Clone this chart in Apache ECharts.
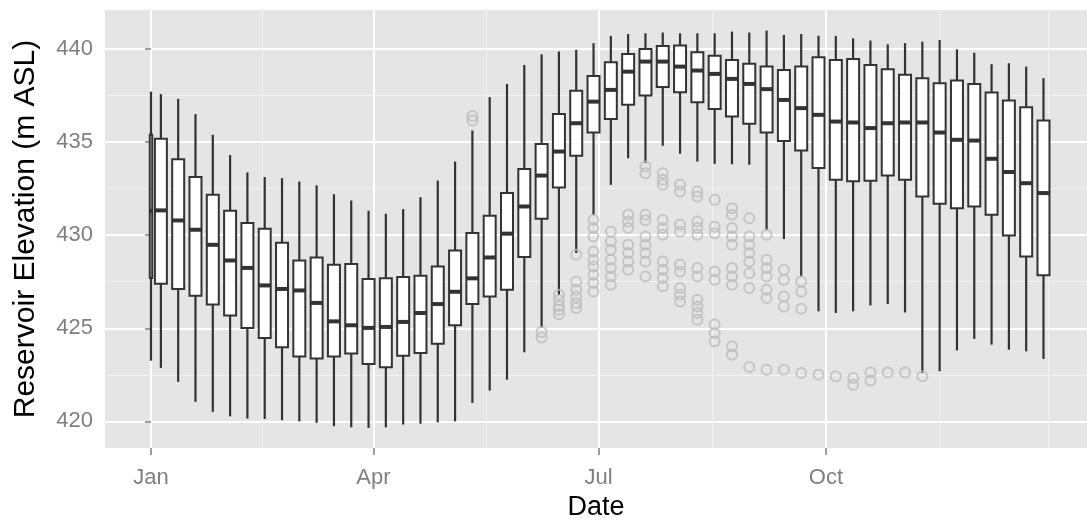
<!DOCTYPE html>
<html>
<head>
<meta charset="utf-8">
<script src="https://cdn.jsdelivr.net/npm/echarts@6/dist/echarts.min.js"></script>
<style>
  html, body { margin: 0; padding: 0; background: #fff; }
  #chart { width: 1087px; height: 523px; }
</style>
</head>
<body>
<div id="chart"></div>
<script>
// day of year (0 = Jan 1) at the middle of each weekly box
const weekDays = [4, 11, 18, 25, 32, 39, 46, 53, 60, 67, 74, 81, 88, 95, 102, 109, 116, 123, 130, 137,
  144, 151, 158, 165, 172, 179, 186, 193, 200, 207, 214, 221, 228, 235, 242, 249, 256, 263, 270, 277,
  284, 291, 298, 305, 312, 319, 326, 333, 340, 347, 354, 361];

// weekly box statistics, reservoir elevation (m ASL)
const whiskerLow = [422.87, 422.12, 421.05, 420.51, 420.27, 420.15, 420.13, 420.06, 420.00, 419.92,
  419.74, 419.68, 419.65, 419.68, 419.83, 419.87, 419.95, 420.00, 420.99, 421.65,
  422.24, 423.71, 425.02, 426.80, 429.04, 431.09, 432.70, 434.13, 433.87, 434.80,
  434.37, 433.95, 433.83, 433.81, 433.78, 430.25, 429.79, 427.78, 425.91, 425.82,
  425.91, 426.23, 426.30, 425.85, 422.60, 422.69, 423.81, 424.43, 424.12, 423.85,
  423.76, 423.35];
const lowerQuartile = [427.39, 427.11, 426.75, 426.27, 425.68, 425.01, 424.48, 423.98, 423.49, 423.37,
  423.49, 423.64, 423.08, 422.90, 423.53, 423.67, 424.17, 425.16, 426.30, 426.71,
  427.07, 428.82, 430.88, 432.56, 434.26, 435.51, 436.24, 437.00, 437.50, 437.95,
  437.68, 437.14, 436.78, 436.37, 435.98, 435.51, 435.06, 434.54, 433.60, 432.97,
  432.90, 432.92, 433.20, 432.97, 432.08, 431.68, 431.45, 431.54, 431.09, 429.98,
  428.86, 427.84];
const medians = [431.33, 430.79, 430.29, 429.48, 428.64, 428.24, 427.30, 427.11, 427.03, 426.36,
  425.37, 425.16, 425.02, 425.07, 425.34, 425.82, 426.30, 426.96, 427.68, 428.80,
  430.08, 431.54, 433.20, 434.49, 436.01, 437.17, 437.80, 438.78, 439.32, 439.32,
  439.05, 438.84, 438.66, 438.39, 438.12, 437.84, 437.26, 436.82, 436.46, 436.10,
  436.05, 435.75, 436.01, 436.05, 436.05, 435.51, 435.12, 435.08, 434.10, 433.39,
  432.79, 432.26];
const upperQuartile = [435.17, 434.08, 433.12, 432.17, 431.31, 430.65, 430.34, 429.59, 428.64, 428.80,
  428.41, 428.45, 427.64, 427.68, 427.75, 427.82, 428.32, 429.18, 430.11, 431.04,
  432.26, 433.55, 434.90, 436.50, 437.75, 438.55, 439.29, 439.73, 440.00, 440.16,
  440.18, 439.82, 439.64, 439.41, 439.20, 439.05, 438.87, 439.05, 439.55, 439.41,
  439.46, 439.14, 438.91, 438.61, 438.43, 438.16, 438.30, 438.12, 437.66, 437.23,
  436.87, 436.15];
const whiskerHigh = [437.57, 437.32, 436.50, 435.39, 434.30, 433.37, 433.12, 433.06, 432.88, 432.67,
  432.20, 431.86, 431.31, 431.15, 431.40, 432.04, 432.93, 433.95, 435.62, 437.41,
  438.12, 439.14, 439.71, 439.86, 439.95, 440.31, 440.70, 440.80, 440.84, 440.88,
  440.84, 440.84, 440.84, 440.93, 440.88, 440.98, 440.75, 440.80, 440.71, 440.70,
  440.57, 440.45, 440.25, 440.31, 440.39, 440.48, 439.98, 439.80, 439.18, 439.23,
  439.05, 438.43];

// the short first "week" that holds only Jan 1
const partialDay = 0;
const partialStats = [423.26, 427.70, 431.30, 435.39, 437.71];

// outliers: week number (1-based) and elevation
const outlierWeek = [19, 19, 23, 23,
  24, 24, 24, 24, 24,
  25, 25, 25, 25, 25, 25,
  26, 26, 26, 26, 26, 26, 26, 26, 26,
  27, 27, 27, 27, 27, 27, 27,
  28, 28, 28, 28, 28, 28, 28,
  29, 29, 29, 29, 29, 29, 29, 29, 29,
  30, 30, 30, 30, 30, 30, 30, 30, 30, 30,
  31, 31, 31, 31, 31, 31, 31, 31, 31,
  32, 32, 32, 32, 32, 32, 32, 32, 32, 32, 32,
  33, 33, 33, 33, 33, 33, 33, 33,
  34, 34, 34, 34, 34, 34, 34, 34, 34, 34,
  35, 35, 35, 35, 35, 35, 35, 35,
  36, 36, 36, 36, 36, 36, 36,
  37, 37, 37, 37, 37,
  38, 38, 38, 38,
  39, 40, 41, 41, 42, 42, 43, 44, 45];
const outlierValue = [436.40, 436.15, 424.80, 424.50,
  426.80, 426.50, 426.20, 426.00, 425.75,
  428.95, 427.51, 427.07, 426.71, 426.35, 426.09,
  430.82, 430.38, 429.93, 429.12, 428.68, 428.32, 427.87, 427.43, 426.98,
  430.20, 429.66, 429.21, 428.68, 428.23, 427.78, 427.34,
  431.09, 430.73, 430.38, 429.48, 429.04, 428.59, 428.14,
  433.68, 433.33, 431.10, 430.80, 429.93, 429.48, 429.04, 428.59, 427.78,
  433.33, 432.97, 432.70, 430.82, 430.38, 430.02, 428.59, 428.14, 427.70, 427.25,
  432.70, 432.34, 430.56, 430.20, 428.41, 428.05, 427.16, 426.80, 426.44,
  432.34, 432.07, 430.73, 430.38, 430.02, 428.23, 427.78, 426.53, 426.17, 425.82, 425.46,
  431.90, 430.45, 430.10, 428.05, 427.60, 425.20, 424.75, 424.30,
  431.45, 431.09, 430.38, 429.93, 429.48, 428.23, 427.78, 427.34, 424.03, 423.58,
  430.91, 429.93, 429.48, 429.04, 428.59, 427.96, 427.16, 422.92,
  430.02, 428.68, 428.23, 427.78, 427.07, 426.62, 422.77,
  428.14, 427.60, 426.71, 426.17, 422.77,
  427.51, 426.98, 426.05, 422.60,
  422.51, 422.42, 422.33, 421.97, 422.63, 422.20, 422.63, 422.63, 422.42];

// axis ticks
const monthDays = [0, 90, 181, 273];
const monthLabels = ['Jan', 'Apr', 'Jul', 'Oct'];
const minorDays = [45, 135.5, 227, 319, 363];
const yMajor = [420, 425, 430, 435, 440];
const yMinor = [422.5, 427.5, 432.5, 437.5];

const boxData = weekDays.map((d, i) =>
  [d, whiskerLow[i], lowerQuartile[i], medians[i], upperQuartile[i], whiskerHigh[i]]);
const partialData = [[partialDay].concat(partialStats)];
const outlierData = outlierWeek.map((w, i) => [weekDays[w - 1], outlierValue[i]]);

const dark = '#333333';
const font = "'Liberation Sans', Arial, sans-serif";

function boxRenderer(spanDays) {
  return function (params, api) {
    const x = api.value(0);
    const lo = api.coord([x, api.value(1)]);
    const q1 = api.coord([x, api.value(2)]);
    const md = api.coord([x, api.value(3)]);
    const q3 = api.coord([x, api.value(4)]);
    const hi = api.coord([x, api.value(5)]);
    const w = api.size([spanDays, 0])[0];
    const cx = lo[0];
    return {
      type: 'group',
      children: [
        { type: 'line', shape: { x1: cx, y1: lo[1], x2: cx, y2: q1[1] }, style: { stroke: dark, lineWidth: 2.2 } },
        { type: 'line', shape: { x1: cx, y1: q3[1], x2: cx, y2: hi[1] }, style: { stroke: dark, lineWidth: 2.2 } },
        { type: 'rect', shape: { x: cx - w / 2, y: q3[1], width: w, height: q1[1] - q3[1] },
          style: { fill: '#ffffff', stroke: dark, lineWidth: 2 } },
        { type: 'line', shape: { x1: cx - w / 2, y1: md[1], x2: cx + w / 2, y2: md[1] }, style: { stroke: dark, lineWidth: 4 } }
      ]
    };
  };
}

const myChart = echarts.init(document.getElementById('chart'));

const option = {
  animation: false,
  grid: {
    left: 105, right: 0, top: 10, bottom: 75,
    outerBoundsMode: 'none',
    show: true, backgroundColor: '#E5E5E5', borderWidth: 0
  },
  xAxis: [
    {
      type: 'value', min: -18.6, max: 378.6,
      name: 'Date', nameLocation: 'middle', nameGap: 44,
      nameTextStyle: { color: '#000', fontSize: 27, fontFamily: font },
      axisLine: { show: false },
      axisTick: { show: true, length: 7, customValues: monthDays, lineStyle: { color: '#7F7F7F', width: 1.5 } },
      axisLabel: {
        customValues: monthDays, margin: 19, color: '#7F7F7F', fontSize: 22, fontFamily: font,
        formatter: v => monthLabels[monthDays.indexOf(v)]
      },
      splitLine: { show: true, lineStyle: { color: '#ffffff', width: 2 } }
    },
    {
      type: 'value', min: -18.6, max: 378.6, position: 'bottom',
      axisLine: { show: false },
      axisTick: { show: false, customValues: minorDays },
      axisLabel: { show: false, customValues: minorDays },
      splitLine: { show: true, lineStyle: { color: '#F2F2F2', width: 1 } }
    }
  ],
  yAxis: [
    {
      type: 'value', min: 418.57, max: 442.09,
      name: 'Reservoir Elevation (m ASL)', nameLocation: 'middle', nameGap: 64,
      nameTextStyle: { color: '#000', fontSize: 30, fontFamily: font },
      axisLine: { show: false },
      axisTick: { show: true, length: 6, customValues: yMajor, lineStyle: { color: '#7F7F7F', width: 1.5 } },
      axisLabel: { customValues: yMajor, margin: 12, color: '#7F7F7F', fontSize: 22, fontFamily: font },
      splitLine: { show: true, lineStyle: { color: '#ffffff', width: 2 } }
    },
    {
      type: 'value', min: 418.57, max: 442.09, position: 'left',
      axisLine: { show: false },
      axisTick: { show: false, customValues: yMinor },
      axisLabel: { show: false, customValues: yMinor },
      splitLine: { show: true, lineStyle: { color: '#F2F2F2', width: 1 } }
    }
  ],
  series: [
    {
      type: 'custom', xAxisIndex: 0, yAxisIndex: 0,
      renderItem: boxRenderer(4.85),
      data: boxData, z: 3
    },
    {
      type: 'custom', xAxisIndex: 0, yAxisIndex: 0,
      renderItem: boxRenderer(1.0),
      data: partialData, z: 3
    },
    {
      type: 'scatter', xAxisIndex: 0, yAxisIndex: 0,
      symbol: 'circle', symbolSize: 10,
      itemStyle: { color: 'rgba(0,0,0,0)', borderColor: '#BDBDBD', borderWidth: 2 },
      data: outlierData, z: 4
    }
  ]
};

myChart.setOption(option);
</script>
</body>
</html>
